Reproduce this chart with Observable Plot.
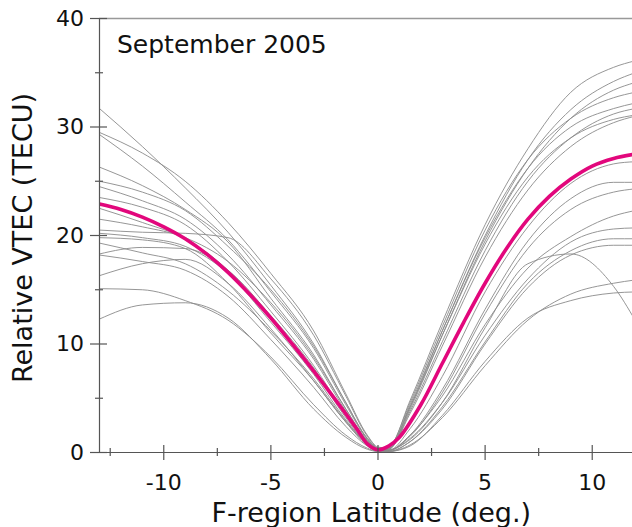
<!DOCTYPE html>
<html>
<head>
<meta charset="utf-8">
<script src="https://cdn.jsdelivr.net/npm/d3@7"></script>
<script src="https://cdn.jsdelivr.net/npm/@observablehq/plot@0.6"></script>
<style>
  html, body { margin: 0; padding: 0; background: #fff; }
  #chart svg { display: block; }
</style>
</head>
<body>
<div id="chart"></div>
<script>
// ---- data ----
const title = "September 2005";
const xLabel = "F-region Latitude (deg.)";
const yLabel = "Relative VTEC (TECU)";

const xMajor = [-10, -5, 0, 5, 10];
const xMinor = [-12.5, -7.5, -2.5, 2.5, 7.5];
const yMajor = [0, 10, 20, 30, 40];
const yMinor = [5, 15, 25, 35];

// latitudes at which the individual curves were sampled
const lat = [-13, -11, -9, -7, -5, -3, -1.5, -0.5, 0, 0.5, 1.5, 3, 5, 7, 9, 11, 12];

const pass01 = [31.7, 28.2, 24.4, 20.3, 15.4, 10.0, 4.6, 1.3, 0.4, 0.5, 4.8, 12.0, 21.0, 28.0, 33.2, 35.5, 36.1];
const pass02 = [29.5, 27.6, 25.0, 21.2, 16.5, 11.2, 5.4, 1.6, 0.5, 0.4, 4.2, 11.2, 20.0, 27.0, 31.6, 34.2, 35.0];
const pass03 = [29.3, 26.4, 23.1, 19.6, 14.8, 9.6, 4.4, 1.2, 0.3, 0.3, 4.0, 10.8, 19.5, 26.2, 30.8, 33.4, 34.1];
const pass04 = [26.3, 24.6, 22.4, 19.4, 14.2, 9.0, 4.0, 1.1, 0.3, 0.5, 4.6, 11.6, 20.5, 27.0, 30.8, 32.7, 33.2];
const pass05 = [25.0, 24.0, 22.3, 19.0, 15.0, 9.8, 4.6, 1.3, 0.4, 0.4, 4.4, 11.2, 19.8, 26.2, 30.0, 31.7, 32.2];
const pass06 = [24.5, 23.2, 21.5, 18.2, 13.6, 8.6, 3.8, 1.0, 0.2, 0.3, 3.8, 10.2, 18.6, 25.0, 29.0, 31.2, 31.7];
const pass07 = [23.5, 22.6, 21.0, 17.6, 13.0, 8.0, 3.5, 0.9, 0.2, 0.4, 4.2, 10.8, 19.2, 25.4, 29.0, 30.7, 31.1];
const pass08 = [22.5, 21.2, 19.7, 16.8, 12.4, 7.6, 3.2, 0.8, 0.2, 0.3, 3.6, 9.8, 18.0, 24.2, 28.2, 30.4, 31.0];
const pass09 = [21.5, 20.8, 19.8, 17.6, 13.8, 8.8, 4.0, 1.1, 0.3, 0.2, 2.2, 7.0, 14.8, 20.8, 24.8, 26.6, 26.8];
const pass10 = [20.5, 20.3, 20.2, 19.8, 16.0, 10.8, 5.2, 1.5, 0.4, 0.2, 1.6, 5.8, 13.2, 19.5, 23.4, 24.9, 24.9];
const pass11 = [20.2, 19.8, 19.0, 16.5, 12.0, 7.2, 3.0, 0.8, 0.2, 0.2, 1.5, 5.5, 12.8, 18.8, 22.4, 24.0, 24.3];
const pass12 = [19.8, 19.6, 18.8, 15.6, 11.0, 6.6, 2.8, 0.7, 0.2, 0.2, 1.6, 5.2, 11.8, 17.0, 19.9, 21.8, 22.3];
const pass13 = [19.3, 18.4, 17.4, 14.9, 11.2, 6.8, 2.9, 0.8, 0.2, 0.2, 1.3, 4.6, 10.8, 16.0, 19.4, 20.6, 20.7];
const pass14 = [18.3, 18.9, 18.8, 16.8, 12.6, 7.8, 3.4, 1.0, 0.3, 0.1, 1.0, 4.2, 10.2, 15.6, 18.6, 19.7, 19.7];
const pass15 = [18.2, 17.6, 16.8, 14.4, 10.4, 6.0, 2.4, 0.6, 0.1, 0.2, 1.2, 4.6, 11.5, 17.4, 18.3, 15.3, 12.2];
const pass16 = [16.3, 17.4, 17.8, 15.6, 11.4, 6.6, 2.8, 0.7, 0.2, 0.1, 1.0, 4.0, 10.0, 15.2, 18.2, 19.1, 19.1];
const pass17 = [15.1, 15.0, 14.0, 12.2, 8.8, 4.4, 1.6, 0.4, 0.1, 0.1, 0.7, 3.2, 8.0, 12.2, 14.6, 15.6, 15.9];
const pass18 = [12.3, 13.6, 13.8, 12.4, 8.6, 4.0, 1.4, 0.3, 0.1, 0.1, 0.6, 3.4, 8.4, 12.4, 14.0, 14.7, 14.8];

// monthly mean curve (magenta)
const meanLat = [-13, -12, -11, -10, -9, -8, -7, -6, -5, -4, -3, -2, -1, -0.5, 0, 0.5, 1, 2, 3, 4, 5, 6, 7, 8, 9, 10, 11, 12];
const meanTEC = [22.9, 22.4, 21.7, 20.8, 19.7, 18.3, 16.6, 14.6, 12.4, 10.0, 7.5, 4.9, 2.2, 0.8, 0.25, 0.6, 1.4, 4.4, 8.2, 12.0, 15.6, 18.8, 21.5, 23.6, 25.2, 26.4, 27.1, 27.5];

// ---- build tables ----
const passes = [pass01, pass02, pass03, pass04, pass05, pass06, pass07, pass08, pass09,
                pass10, pass11, pass12, pass13, pass14, pass15, pass16, pass17, pass18];
const grayRows = passes.flatMap((vals, k) => vals.map((v, i) => ({id: k, x: lat[i], y: v})));
const meanRows = meanLat.map((x, i) => ({x, y: meanTEC[i]}));

const axisColor = "#555";
const font = "DejaVu Sans, Verdana, sans-serif";

const chart = Plot.plot({
  width: 632,
  height: 527,
  marginLeft: 99,
  marginRight: 0,
  marginTop: 18,
  marginBottom: 75,
  style: {fontFamily: font, background: "#fff", color: "#111"},
  x: {domain: [-13, 11.88], axis: null},
  y: {domain: [0, 40], axis: null},
  marks: [
    // gray individual curves
    Plot.line(grayRows, {x: "x", y: "y", z: "id", stroke: "#8a8a8a", strokeWidth: 0.9, curve: "monotone-x", clip: true}),
    // mean curve
    Plot.line(meanRows, {x: "x", y: "y", stroke: "#e2077c", strokeWidth: 3.6, curve: "catmull-rom", clip: true}),
    // frame lines
    Plot.ruleY([40], {stroke: "#999", strokeWidth: 1.6}),
    Plot.ruleX([-13], {stroke: axisColor, strokeWidth: 1.2}),
    Plot.ruleY([0], {stroke: axisColor, strokeWidth: 1.2}),
    // x ticks crossing the axis
    Plot.axisX({ticks: xMajor, label: null, tickSize: 15, dy: -7, tickFormat: () => "", stroke: axisColor, strokeWidth: 1.2}),
    Plot.axisX({ticks: xMinor, label: null, tickSize: 8, dy: -4, tickFormat: () => "", stroke: axisColor, strokeWidth: 1.2}),
    Plot.axisX({ticks: xMajor, label: null, tickSize: 0, tickPadding: 22, tickFormat: d => String(d), fontSize: 22, fill: "#111"}),
    // y ticks crossing the axis
    Plot.axisY({ticks: yMajor, label: null, tickSize: 17, dx: 8, tickFormat: () => "", stroke: axisColor, strokeWidth: 1.2}),
    Plot.axisY({ticks: yMinor, label: null, tickSize: 8, dx: 4, tickFormat: () => "", stroke: axisColor, strokeWidth: 1.2}),
    Plot.axisY({ticks: yMajor, label: null, tickSize: 0, tickPadding: 15.5, tickFormat: d => String(d), fontSize: 22, fill: "#111"}),
    // texts
    Plot.text([title], {frameAnchor: "top-left", dx: 17.5, dy: 34.7, textAnchor: "start", lineAnchor: "bottom", fontSize: 25, fill: "#111"}),
    Plot.text([xLabel], {frameAnchor: "bottom", dx: 5.3, dy: 69.7, textAnchor: "middle", lineAnchor: "bottom", fontSize: 27, fill: "#111"}),
    Plot.text([yLabel], {frameAnchor: "left", rotate: -90, dx: -67.3, dy: 2.5, textAnchor: "middle", lineAnchor: "bottom", fontSize: 27, fill: "#111"})
  ]
});
document.getElementById("chart").appendChild(chart);
</script>
</body>
</html>
